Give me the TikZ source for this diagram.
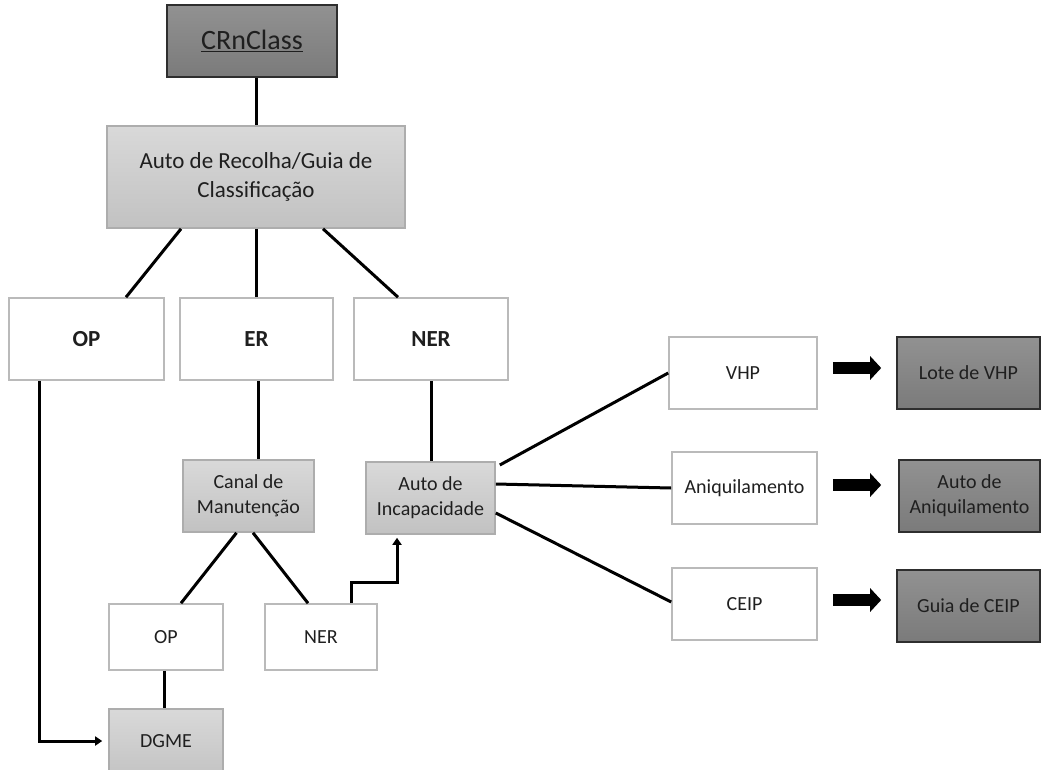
\documentclass[tikz,border=0pt]{standalone}
\usepackage{fontspec}
\setmainfont{Carlito}
\usetikzlibrary{calc,arrows.meta}
\begin{document}
\begin{tikzpicture}[x=1pt,y=-1pt,
  box/.style={rectangle, inner sep=2pt, align=center, text=black!88,
    font=\fontsize{20}{25}\selectfont},
  whitebox/.style={box, draw=black!27, line width=1.6pt, fill=white},
  lightbox/.style={box, draw=black!32, line width=1.6pt, top color=black!15, bottom color=black!24},
  darkbox/.style={box, draw=black!82, line width=1.6pt, top color=black!43, bottom color=black!52},
  headtext/.style={font=\bfseries\fontsize{23}{28}\selectfont},
  link/.style={line width=3pt, black},
  flow/.style={link, -{Triangle[length=7pt,width=9pt]}},
  bigarrow/.style={line width=12pt, black, line cap=butt, -{Triangle[length=11pt,width=23pt]}}
]
\useasboundingbox (0,0) rectangle (1041,769);
\clip (0,0) rectangle (1041,769);

% top of the hierarchy
\node[darkbox, minimum width=170pt, minimum height=72pt, font=\fontsize{28}{32}\selectfont]
  (crn) at (252,41) {\underline{CRnClass}};
\node[lightbox, minimum width=298pt, minimum height=102pt, font=\fontsize{23}{29}\selectfont]
  (auto) at (256,177) {Auto de Recolha/Guia de\\Classificação};

% first level
\node[whitebox, headtext, minimum width=155pt, minimum height=82pt] (op) at (86.5,339) {OP};
\node[whitebox, headtext, minimum width=153pt, minimum height=82pt] (er) at (256.5,339) {ER};
\node[whitebox, headtext, minimum width=154pt, minimum height=82pt] (ner) at (431,339) {NER};

% second level
\node[lightbox, minimum width=131pt, minimum height=72pt] (canal) at (248.5,496) {Canal de\\Manutenção};
\node[lightbox, minimum width=129pt, minimum height=72pt] (inc) at (430.5,498) {Auto de\\Incapacidade};

\node[whitebox, minimum width=114pt, minimum height=66pt] (op2) at (166,637) {OP};
\node[whitebox, minimum width=112pt, minimum height=66pt] (ner2) at (321,637) {NER};
\node[lightbox, minimum width=114pt, minimum height=72pt] (dgme) at (166,745) {};
\node[font=\fontsize{20}{25}\selectfont, text=black!88] (dgmelabel) at (166,741) {DGME};

% outcomes
\node[whitebox, minimum width=148pt, minimum height=72pt] (vhp) at (743,373) {VHP};
\node[whitebox, minimum width=145pt, minimum height=72pt] (ani) at (744.5,488) {Aniquilamento};
\node[whitebox, minimum width=145pt, minimum height=72pt] (ceip) at (744.5,604) {CEIP};

\node[darkbox, minimum width=143pt, minimum height=72pt] (lote) at (968.5,373) {Lote de VHP};
\node[darkbox, minimum width=141pt, minimum height=72pt] (autoani) at (969.5,496) {Auto de\\Aniquilamento};
\node[darkbox, minimum width=143pt, minimum height=72pt] (guia) at (968.5,606) {Guia de CEIP};

% block arrows from each outcome to its document
\draw[bigarrow] ($(vhp.east)+(15,-5)$) -- ($(lote.west)+(-15,-5)$);
\draw[bigarrow] ($(ani.east)+(15,-3)$) -- ($(autoani.west |- ani.east)+(-17,-3)$);
\draw[bigarrow] ($(ceip.east)+(15,-4)$) -- ($(guia.west |- ceip.east)+(-15,-4)$);

% connectors
\draw[link] (auto.north |- crn.south) -- (auto.north);
\draw[link] ($(auto.south)+(-75,0)$) -- ($(op.north)+(39.5,0)$);
\draw[link] (auto.south) -- (auto.south |- er.north);
\draw[link] ($(auto.south)+(67,0)$) -- ($(ner.north)+(-33,0)$);

\draw[link] ($(er.south)+(1.5,0)$) -- ($(er.south |- canal.north)+(1.5,0)$);
\draw[link] (ner.south) -- (ner.south |- inc.north);

\draw[link] ($(canal.south)+(-12,0)$) -- ($(op2.north)+(15,0)$);
\draw[link] ($(canal.south)+(4.5,0)$) -- ($(ner2.north)+(-13,0)$);
\draw[link] ($(op2.south)+(-2,0)$) -- ($(dgme.north)+(-2,0)$);

\draw[flow, shorten >=6pt] ($(op.south)+(-47.5,0)$) |- (dgme.west |- dgmelabel.center);
\draw[flow, shorten >=3pt] ($(ner2.north)+(30.7,0)$) -- ++(0,-21) -- ++(45.3,0) -- ($(inc.south)+(-33.5,0)$);

\draw[link] ($(inc.east)+(4,-33)$) -- (vhp.west);
\draw[link] ($(inc.east)+(0,-14)$) -- (ani.west);
\draw[link] ($(inc.east)+(0,15)$) -- ($(ceip.west)+(0,-2)$);
\end{tikzpicture}
\end{document}
